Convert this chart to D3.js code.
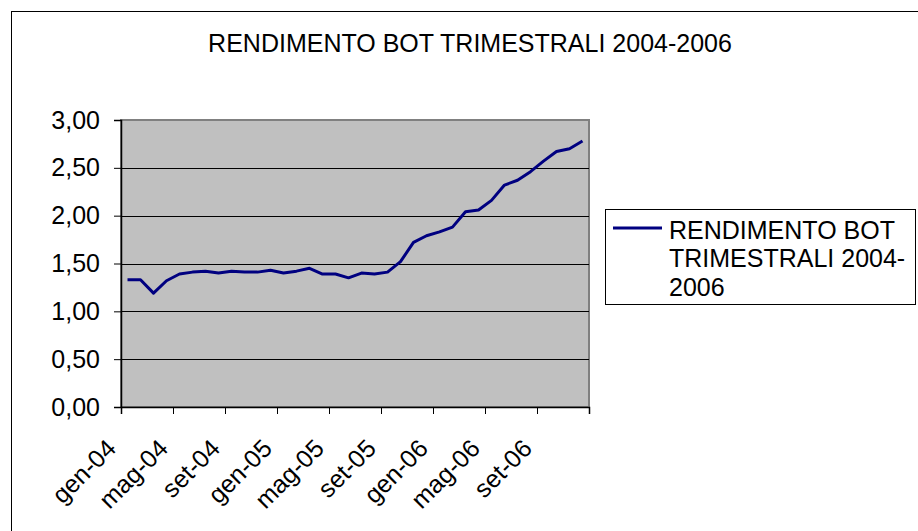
<!DOCTYPE html>
<html>
<head>
<meta charset="utf-8">
<script src="https://cdn.jsdelivr.net/npm/d3@7"></script>
<style>
  body { margin: 0; background: #fff; }
  svg { display: block; font-family: "Liberation Sans", Arial, sans-serif; }
</style>
</head>
<body>
<svg width="918" height="531"></svg>
<script>
// months shown as categories (gen-04 .. dic-06)
const monthNames = ['gen', 'feb', 'mar', 'apr', 'mag', 'giu', 'lug', 'ago', 'set', 'ott', 'nov', 'dic'];
const years = ['04', '05', '06'];
const months = [];
years.forEach((y) => monthNames.forEach((m) => months.push(m + '-' + y)));

// yield values
const rendimento = [
  1.33, 1.33, 1.19, 1.32, 1.39, 1.41, 1.42, 1.40, 1.42, 1.41, 1.41, 1.43,
  1.40, 1.42, 1.45, 1.39, 1.39, 1.35, 1.40, 1.39, 1.41, 1.52, 1.72, 1.79,
  1.83, 1.88, 2.04, 2.06, 2.16, 2.32, 2.37, 2.46, 2.57, 2.67, 2.70, 2.78
];

const yTicks = [0, 0.5, 1, 1.5, 2, 2.5, 3];
const title = 'RENDIMENTO BOT TRIMESTRALI 2004-2006';
const legendLines = ['RENDIMENTO BOT', 'TRIMESTRALI 2004-', '2006'];

const svg = d3.select('svg');

// plot area bounds
const plotLeft = 121, plotTop = 120, plotRight = 589, plotBottom = 407;

// chart area border (runs off the picture on right and bottom)
svg.append('rect')
  .attr('x', 11.5).attr('y', 11.5)
  .attr('width', 1000).attr('height', 1000)
  .attr('fill', '#fff')
  .attr('stroke', '#000')
  .attr('stroke-width', 1);

svg.append('text')
  .attr('x', 470).attr('y', 52)
  .attr('text-anchor', 'middle')
  .attr('font-size', 25)
  .text(title);

const x = d3.scaleBand().domain(months).range([plotLeft, plotRight]).padding(0);
const xEdge = d3.scaleLinear().domain([0, months.length]).range([plotLeft, plotRight]);
const y = d3.scaleLinear().domain([0, 3]).range([plotBottom, plotTop]);

svg.append('rect')
  .attr('x', plotLeft).attr('y', plotTop)
  .attr('width', plotRight - plotLeft).attr('height', plotBottom - plotTop)
  .attr('fill', '#c0c0c0')
  .attr('stroke', '#808080')
  .attr('stroke-width', 2);

// gridlines
svg.append('g')
  .selectAll('line')
  .data(yTicks.filter((d) => d > 0 && d < 3))
  .join('line')
  .attr('x1', plotLeft).attr('x2', plotRight)
  .attr('y1', (d) => Math.round(y(d)) + 0.5)
  .attr('y2', (d) => Math.round(y(d)) + 0.5)
  .attr('stroke', '#000')
  .attr('stroke-width', 1);

// y axis
const yAxis = svg.append('g')
  .attr('transform', `translate(${plotLeft},0)`)
  .call(d3.axisLeft(y).tickValues(yTicks).tickSize(7).tickPadding(14)
    .tickFormat((d) => d3.format('.2f')(d).replace('.', ',')));
yAxis.select('.domain').attr('stroke', '#000').attr('stroke-width', 1.5);
yAxis.selectAll('.tick line').attr('stroke', '#000');
yAxis.selectAll('.tick text')
  .attr('font-size', 25)
  .attr('font-family', '"Liberation Sans", Arial, sans-serif')
  .attr('fill', '#000');

// x axis: tick marks on category boundaries every 4 months
const xAxis = svg.append('g')
  .attr('transform', `translate(0,${plotBottom})`)
  .call(d3.axisBottom(xEdge).tickValues(d3.range(0, months.length + 1, 4)).tickSize(7).tickFormat(''));
xAxis.select('.domain').attr('stroke', '#000').attr('stroke-width', 1.5);
xAxis.selectAll('.tick line').attr('stroke', '#000');

// rotated category labels
svg.append('g')
  .selectAll('text')
  .data(months.filter((d, i) => i % 4 === 0))
  .join('text')
  .attr('font-size', 25)
  .attr('text-anchor', 'end')
  .attr('transform', (d) => `translate(${x(d) + x.bandwidth() / 2 - 10},450) rotate(-45)`)
  .text((d) => d);

// series line
const line = d3.line()
  .x((d, i) => x(months[i]) + x.bandwidth() / 2)
  .y((d) => y(d));

svg.append('path')
  .datum(rendimento)
  .attr('d', line)
  .attr('fill', 'none')
  .attr('stroke', '#000080')
  .attr('stroke-width', 3)
  .attr('stroke-linejoin', 'round');

// legend
const legend = svg.append('g');
legend.append('rect')
  .attr('x', 605.5).attr('y', 209.5)
  .attr('width', 310).attr('height', 95)
  .attr('fill', '#fff')
  .attr('stroke', '#000');
legend.append('line')
  .attr('x1', 613).attr('x2', 662)
  .attr('y1', 228).attr('y2', 228)
  .attr('stroke', '#000080')
  .attr('stroke-width', 3);
legend.selectAll('text')
  .data(legendLines)
  .join('text')
  .attr('x', 669)
  .attr('y', (d, i) => 238.5 + i * 28.5)
  .attr('font-size', 25)
  .text((d) => d);
</script>
</body>
</html>
